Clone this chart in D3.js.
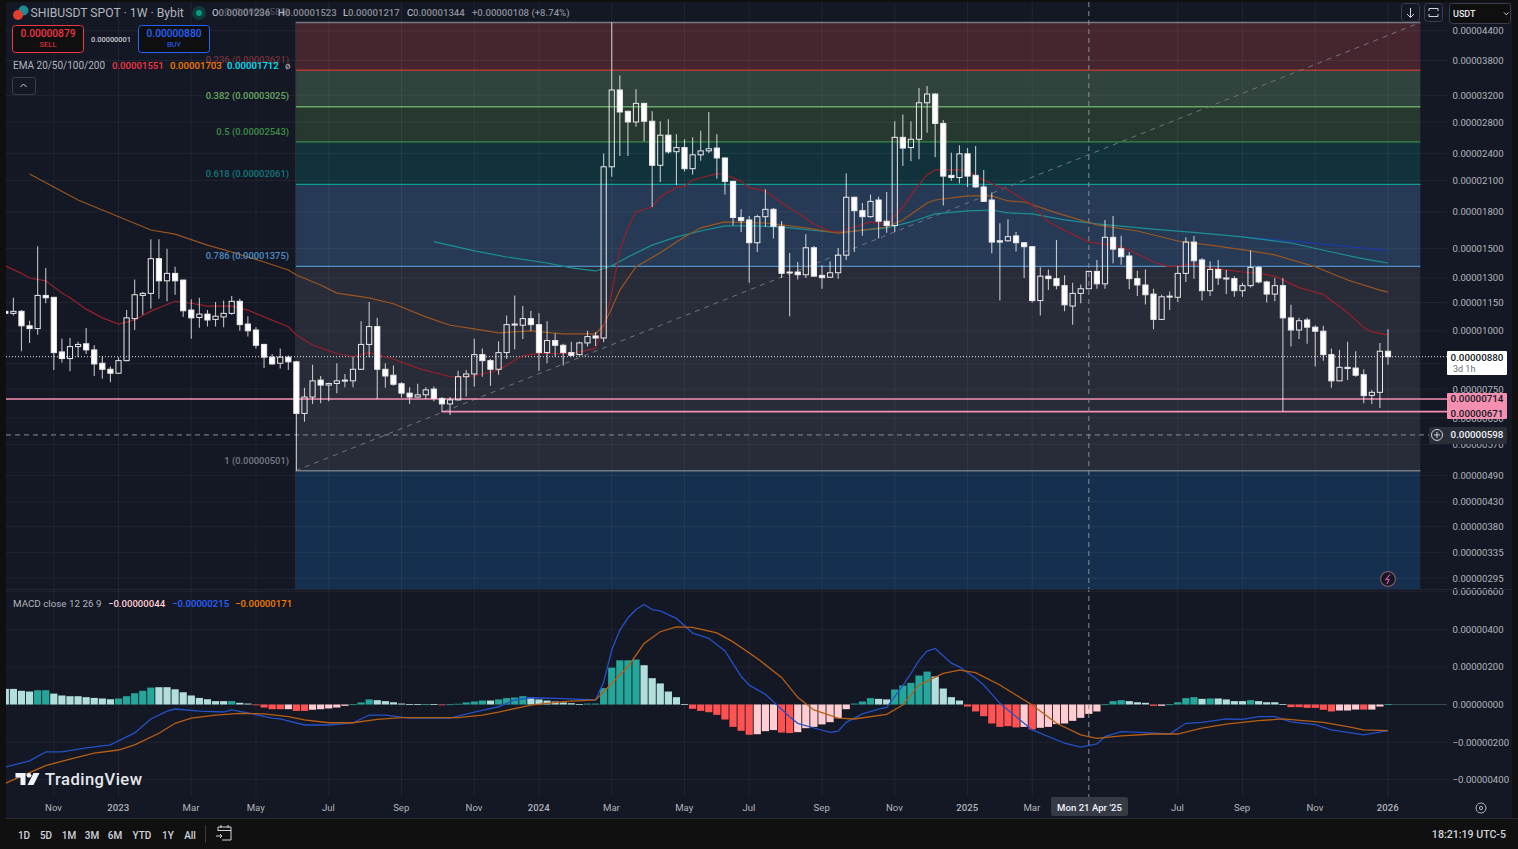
<!doctype html>
<html>
<head>
<meta charset='utf-8' />
<script src="https://cdn.jsdelivr.net/npm/d3@7"></script>
<style>
    html, body { margin: 0; padding: 0; background: #0f0f0f; overflow: hidden; }
    svg { display: block; font-family: Roboto, "Liberation Sans", sans-serif; }
</style>
</head>
<body>
<svg id="chart" width="1518" height="849"></svg>
<script>
var candleOpen = [
  1101,1090,1101,1025,1011,1191,1180,901,872,925,
  938,910,852,827,811,863,1062,1191,1203,1428,
  1280,1328,1285,1108,1068,1086,1058,1071,1090,1157,
  1034,1004,935,878,852,878,858,665,721,784,
  765,771,784,781,827,935,1021,827,803,770,
  735,721,729,750,716,697,711,797,808,889,
  863,827,898,1031,1028,1062,1031,898,953,931,
  898,889,942,975,965,2248,3285,2957,2805,3075,
  2815,2265,2628,2422,2472,2227,2385,2432,2466,2348,
  2092,1750,1729,1545,1757,1822,1675,1337,1337,1319,
  1507,1315,1303,1332,1453,1934,1810,1757,1908,1718,
  1682,2600,2472,2575,3084,3220,2785,2155,2132,2397,
  2155,2035,1908,1560,1560,1598,1545,1515,1161,1310,
  1294,1250,1130,1203,1231,1341,1261,1587,1500,1447,
  1294,1254,1199,1058,1183,1180,1328,1550,1419,1219,
  1354,1298,1294,1219,1250,1368,1273,1199,1250,1066,
  1004,1055,1018,998,889,781,835,832,805,727,
  738,904];
var candleClose = [
  1090,1101,1025,1011,1191,1177,898,872,925,935,
  910,849,827,811,863,1066,1195,1203,1428,1280,
  1328,1280,1104,1066,1086,1055,1075,1090,1157,1031,
  1000,931,878,849,878,858,665,721,781,765,
  771,781,781,827,935,1021,827,800,768,735,
  721,729,747,716,697,711,797,808,889,863,
  827,898,1031,1034,1062,1031,898,953,931,898,
  886,942,972,965,2248,3285,2947,2805,3075,2815,
  2265,2628,2420,2472,2227,2385,2432,2457,2348,2092,
  1750,1723,1545,1757,1822,1675,1328,1332,1319,1507,
  1310,1300,1332,1453,1934,1810,1757,1895,1718,1682,
  2600,2466,2575,3084,3220,2785,2147,2132,2397,2147,
  2035,1895,1550,1550,1592,1545,1515,1161,1310,1294,
  1250,1137,1203,1231,1341,1261,1587,1497,1442,1294,
  1254,1195,1058,1183,1187,1328,1550,1413,1219,1354,
  1298,1294,1219,1250,1368,1273,1199,1250,1066,1004,
  1051,1018,998,889,781,835,830,803,726,738,
  904,880];
var candleHigh = [
  1102,1177,1108,1051,1519,1363,1182,962,965,947,
  1014,931,881,838,878,1108,1289,1211,1572,1572,
  1500,1373,1287,1169,1177,1108,1153,1161,1187,1172,
  1075,1018,938,892,916,885,863,755,846,800,
  774,852,808,881,1048,1153,1066,852,843,776,
  757,770,757,760,721,721,821,824,962,916,
  870,950,1079,1191,1130,1104,1090,1048,987,938,
  947,947,1000,994,2401,4585,3530,2966,3297,3085,
  2957,2815,2843,2640,2575,2600,2687,2947,2640,2356,
  2099,1822,1762,1775,2012,1834,1718,1468,1405,1612,
  1520,1383,1410,1505,2175,1940,1881,1960,1940,1986,
  2815,2910,2815,3317,3350,3231,2833,2408,2500,2466,
  2490,2213,1980,1700,1735,1629,1550,1520,1368,1354,
  1566,1315,1268,1257,1345,1419,1729,1762,1600,1476,
  1345,1354,1231,1195,1215,1378,1587,1598,1433,1410,
  1419,1350,1310,1268,1486,1378,1280,1298,1298,1137,
  1066,1066,1028,1025,916,910,947,904,827,747,
  942,1008];
var candleLow = [
  1088,1079,904,942,981,1146,824,855,819,878,
  892,800,789,776,808,860,1004,1083,1115,1172,
  1157,1195,1070,962,1015,1021,1021,1018,1083,1000,
  972,916,832,846,830,824,501,638,697,699,
  706,735,757,757,824,878,714,755,762,719,
  697,719,714,706,669,660,709,723,760,797,
  762,805,870,913,960,1000,821,852,881,843,
  881,885,925,928,945,2140,2371,2371,2740,2550,
  1843,2085,2397,2055,2197,2165,2317,2407,2120,1960,
  1685,1629,1268,1476,1670,1577,1298,1075,1289,1298,
  1306,1231,1298,1294,1419,1476,1600,1750,1577,1623,
  1629,2258,2310,2333,2660,2356,1858,2099,2070,2035,
  2028,1889,1467,1161,1553,1480,1298,1150,1079,1223,
  1228,1101,1031,1146,1231,1231,1231,1396,1386,1228,
  1187,1139,1008,1055,1108,1153,1273,1294,1161,1187,
  1254,1199,1183,1183,1238,1264,1150,1157,671,925,
  960,938,838,863,755,781,784,797,699,697,
  683,846];

// moving averages as [candle index, price]
var emaRed = [[0,1378],[2,1328],[3,1298],[5,1280],[7,1205],[8,1177],[10,1113],[12,1066],[14,1034],[16,1055],[18,1102],[21,1157],[23,1146],[25,1130],[28,1130],[30,1108],[32,1071],[35,1020],[36,980],[38,932],[41,894],[43,881],[45,898],[48,870],[51,832],[55,797],[58,800],[61,824],[64,885],[66,894],[70,894],[73,917],[74,1020],[75,1205],[76,1491],[77,1665],[78,1800],[80,1843],[81,1940],[83,2030],[84,2040],[85,2106],[88,2173],[89,2162],[91,2095],[92,2028],[94,1995],[96,1880],[98,1790],[100,1695],[102,1637],[103,1629],[105,1670],[107,1712],[109,1687],[111,1843],[112,1957],[114,2162],[115,2213],[118,2213],[119,2202],[121,2106],[123,2035],[124,2005],[127,1862],[129,1712],[132,1610],[134,1550],[137,1527],[139,1491],[142,1405],[144,1372],[147,1392],[149,1364],[153,1337],[155,1328],[157,1310],[160,1238],[163,1197],[166,1095],[168,1016],[169,995],[171,980]];
var emaOrange = [[3,2170],[9,1908],[18,1645],[21,1612],[25,1527],[28,1476],[32,1405],[35,1350],[36,1317],[39,1254],[41,1205],[45,1177],[48,1143],[52,1071],[55,1028],[58,1010],[61,990],[65,1000],[69,985],[73,985],[74,1028],[75,1119],[76,1223],[78,1372],[81,1470],[83,1550],[84,1590],[86,1663],[89,1712],[94,1703],[96,1687],[99,1663],[103,1620],[109,1670],[111,1729],[114,1880],[115,1908],[119,1947],[122,1947],[124,1899],[126,1889],[130,1790],[135,1687],[140,1637],[145,1558],[149,1527],[154,1484],[157,1455],[162,1372],[166,1285],[170,1223],[171,1211]];
var emaTeal = [[53,1553],[58,1484],[62,1440],[67,1398],[70,1364],[73,1344],[75,1378],[77,1440],[80,1527],[83,1590],[86,1637],[89,1679],[93,1679],[97,1663],[102,1629],[104,1629],[109,1663],[112,1712],[115,1781],[119,1808],[122,1816],[124,1790],[127,1781],[131,1729],[135,1695],[142,1653],[148,1620],[153,1590],[159,1543],[164,1476],[168,1426],[171,1398]];
var emaBlue = [[153,1590],[160,1553],[166,1515],[171,1486]];

// MACD pane, same units
var macdHist = [
  83,83,73,69,76,76,58,48,44,44,
  39,35,32,28,32,44,60,73,90,92,
  92,81,65,48,35,28,18,18,18,9,
  5,-4,-16,-25,-25,-25,-34,-34,-28,-25,
  -21,-16,-7,1,11,27,23,18,12,5,
  2,2,2,2,-3,1,4,11,16,21,
  21,27,34,37,44,37,27,21,16,11,
  7,2,5,5,87,196,235,235,239,209,
  140,112,69,39,2,-23,-34,-41,-55,-80,
  -119,-140,-161,-158,-142,-136,-149,-152,-147,-126,
  -119,-106,-94,-73,-25,5,16,34,30,27,
  80,101,115,154,175,149,85,39,21,-11,
  -37,-62,-101,-119,-115,-122,-119,-133,-124,-119,
  -104,-101,-87,-71,-50,-37,1,18,23,18,
  12,9,-7,-7,1,12,34,39,30,32,
  32,27,18,18,23,18,12,12,2,-14,
  -14,-18,-18,-28,-37,-32,-32,-27,-27,-27,
  -11,2];
// t teal, l light teal, r red, p pink
var macdShade = "llllttllllllllttttt" + "lllllllllt" + "ll" + "rrrrprr" + "ppppp" + "ttt" + "llllll" + "tlr" + "ttttt" + "lt" + "ttt" + "lllllll" + "ttttttt" + "llllll" + "rrrrrrrr" + "ppp" + "rr" + "ppppppp" + "ttt" + "ll" + "ttttt" + "llll" + "rrrrrrr" + "pr" + "pppppppp" + "ttt" + "lll" + "rp" + "tttt" + "lt" + "llll" + "t" + "llll" + "rrrrrr" + "ppp" + "rpp" + "t";
var macdLine = [[0,-333],[3,-300],[5,-252],[7,-252],[10,-231],[13,-215],[16,-151],[18,-77],[20,-35],[21,-24],[24,-35],[27,-40],[28,-29],[30,-45],[33,-72],[34,-77],[37,-109],[40,-109],[43,-98],[45,-56],[47,-56],[50,-72],[55,-72],[58,-40],[61,-12],[63,24],[65,36],[69,31],[73,24],[74,120],[75,290],[76,396],[77,460],[78,505],[79,532],[80,505],[81,498],[83,458],[85,380],[87,352],[89,285],[91,150],[92,103],[94,55],[95,15],[97,-65],[98,-100],[100,-125],[102,-148],[103,-142],[104,-95],[106,-50],[108,-25],[109,-15],[111,100],[112,165],[113,235],[114,284],[115,298],[117,220],[118,200],[120,140],[121,104],[122,55],[123,6],[127,-135],[131,-206],[133,-227],[135,-210],[136,-171],[138,-144],[141,-150],[144,-157],[146,-100],[148,-95],[151,-77],[153,-79],[155,-65],[157,-65],[159,-93],[162,-107],[164,-135],[168,-162],[171,-139]];
var macdSignal = [[0,-419],[3,-362],[5,-325],[8,-291],[11,-259],[14,-242],[16,-215],[19,-153],[21,-100],[23,-73],[26,-57],[29,-47],[32,-50],[35,-65],[37,-82],[40,-97],[43,-97],[46,-79],[49,-70],[52,-70],[56,-70],[59,-56],[61,-40],[65,-3],[69,15],[73,24],[74,68],[77,201],[79,325],[81,387],[83,413],[85,410],[88,381],[90,333],[93,245],[96,144],[98,38],[100,-29],[103,-72],[105,-77],[109,-52],[111,-3],[113,104],[116,166],[118,183],[120,169],[123,104],[127,-3],[130,-100],[133,-162],[135,-180],[138,-167],[142,-157],[145,-157],[148,-126],[151,-104],[155,-86],[158,-77],[163,-95],[166,-118],[168,-135],[171,-139]];

// fib retracement
var fibRatios = [0, 0.236, 0.382, 0.5, 0.618, 0.786, 1];
var fibPrices = [4585, 3621, 3025, 2543, 2061, 1375, 501];
var fibLine = ["#787b86", "#b03a36", "#66a860", "#3c8a46", "#0e9c96", "#4f8fc6", "#787b86"];
var fibText = ["#4a4d58", "#73323a", "#6aa864", "#3f8e4a", "#11787c", "#4f8fc6", "#787b86"];
var fibFill = ["#45262f", "#30433d", "#27392f", "#12323b", "#273a55", "#282b38", "#15304f"];

var priceTicks = [4400,3800,3200,2800,2400,2100,1800,1500,1300,1150,1000,850,750,650,570,490,430,380,335,295];
var priceLabelled = [4400,3800,3200,2800,2400,2100,1800,1500,1300,1150,1000,750,650,570,490,430,380,335,295];
var macdTicks = [600,400,200,0,-200,-400];
var timeIdx = [6,14,23,31,40,49,58,66,75,84,92,101,110,119,127,145,153,162,171];
var timeLabels = ["Nov","2023","Mar","May","Jul","Sep","Nov","2024","Mar","May","Jul","Sep","Nov","2025","Mar","Jul","Sep","Nov","2026"];
var rangeButtons = ["1D","5D","1M","3M","6M","YTD","1Y","All"];

var lastPrice = 880, sellPrice = 879, supportA = 714, supportB = 671, crossPrice = 598, crossIdx = 134, fibFromIdx = 35.9, fibToIdx = 175;

var svg = d3.select("#chart");
var x = d3.scaleLinear().domain([0, 171]).range([5.3, 1388]);
var y = d3.scaleLog().domain([3800, 295]).range([60.5, 578]);
var my = d3.scaleLinear().domain([400, -400]).range([629.3, 779.7]);
var fmt = function (v) { return (v < 0 ? "\u2212" : "") + (Math.abs(v) / 1e8).toFixed(8); };
var bg = "#141824", grey = "#b2b5be";

var defs = svg.append("defs");
defs.append("clipPath").attr("id", "pricePane").append("rect").attr("x", 6).attr("y", 2).attr("width", 1441).attr("height", 587);
defs.append("clipPath").attr("id", "macdPane").append("rect").attr("x", 6).attr("y", 590).attr("width", 1441).attr("height", 207);

function label(g, tx, ty, s, size, fill, anchor, weight) {
    return g.append("text").attr("x", tx).attr("y", ty).attr("dy", "0.35em")
        .attr("font-size", size).attr("fill", fill)
        .attr("text-anchor", anchor || "start")
        .attr("font-weight", weight || 400).text(s);
}
function box(g, bx, by, w, h, fill, stroke, r) {
    return g.append("rect").attr("x", bx).attr("y", by).attr("width", w).attr("height", h)
        .attr("fill", fill).attr("stroke", stroke || "none").attr("rx", r || 0);
}

// backgrounds
box(svg, 0, 0, 1518, 849, "#0f0f0f");
box(svg, 6, 2, 1506, 816, bg);

var price = svg.append("g").attr("clip-path", "url(#pricePane)");

// fib bands
var fx0 = x(fibFromIdx), fx1 = x(fibToIdx);
var bandEdges = fibPrices.concat([100]);
price.selectAll("rect.band").data(fibFill).join("rect").attr("class", "band")
    .attr("x", fx0).attr("width", fx1 - fx0)
    .attr("y", function (d, i) { return y(bandEdges[i]); })
    .attr("height", function (d, i) { return y(bandEdges[i + 1]) - y(bandEdges[i]); })
    .attr("fill", function (d) { return d; });

// grid
var gridCol = "rgba(255,255,255,0.055)";
price.selectAll("line.hg").data(priceTicks).join("line").attr("class", "hg")
    .attr("x1", 6).attr("x2", 1447).attr("y1", function (d) { return y(d); }).attr("y2", function (d) { return y(d); })
    .attr("stroke", gridCol);
svg.append("g").selectAll("line").data(timeIdx).join("line")
    .attr("x1", function (d) { return x(d); }).attr("x2", function (d) { return x(d); })
    .attr("y1", 2).attr("y2", 797).attr("stroke", gridCol);

// fib lines and their labels
price.selectAll("line.fib").data(fibPrices).join("line").attr("class", "fib")
    .attr("x1", fx0).attr("x2", fx1).attr("y1", function (d) { return y(d); }).attr("y2", function (d) { return y(d); })
    .attr("stroke", function (d, i) { return fibLine[i]; }).attr("stroke-width", 1.4);
price.append("line").attr("x1", fx0).attr("x2", fx0).attr("y1", y(fibPrices[0])).attr("y2", 589).attr("stroke", "#2a2e39");
fibPrices.forEach(function (p, i) {
    label(svg, 289, y(p) - 10.5, fibRatios[i] + " (" + fmt(p) + ")", 9.4, fibText[i], "end", 500);
});

// trend line of the fib
price.append("line")
    .attr("x1", x(fibFromIdx)).attr("y1", y(fibPrices[6]))
    .attr("x2", x(fibToIdx)).attr("y2", y(fibPrices[0]))
    .attr("stroke", "#71747e").attr("stroke-dasharray", "5 5").attr("stroke-width", 1);

// support lines, last price, crosshair
price.append("line").attr("x1", 6).attr("x2", 1447).attr("y1", y(supportA)).attr("y2", y(supportA)).attr("stroke", "#f48fb1").attr("stroke-width", 1.6);
price.append("line").attr("x1", x(54)).attr("x2", 1447).attr("y1", y(supportB)).attr("y2", y(supportB)).attr("stroke", "#f48fb1").attr("stroke-width", 1.6);
price.append("line").attr("x1", 6).attr("x2", 1447).attr("y1", y(lastPrice)).attr("y2", y(lastPrice))
    .attr("stroke", "#e8e8e8").attr("stroke-dasharray", "1 2");
price.append("line").attr("x1", 6).attr("x2", 1430).attr("y1", y(crossPrice)).attr("y2", y(crossPrice))
    .attr("stroke", "#8a8d97").attr("stroke-dasharray", "5 4");

// emas
var emaPath = d3.line().x(function (d) { return x(d[0]); }).y(function (d) { return y(d[1]); });
[[emaBlue, "#1c3aa6"], [emaTeal, "#1a9095"], [emaOrange, "#9a5620"], [emaRed, "#94202a"]].forEach(function (e) {
    price.append("path").attr("d", emaPath(e[0])).attr("fill", "none").attr("stroke", e[1]).attr("stroke-width", 1.2);
});

// candles, wicks stop at the body so hollow bodies show what is behind them
var candles = d3.range(candleOpen.length);
var bodyTop = function (i) { return y(Math.max(candleOpen[i], candleClose[i])); };
var bodyBot = function (i) { return y(Math.min(candleOpen[i], candleClose[i])); };
price.selectAll("path.wick").data(candles).join("path").attr("class", "wick")
    .attr("d", function (i) {
        return "M" + x(i) + "," + y(candleHigh[i]) + "V" + bodyTop(i) + "M" + x(i) + "," + bodyBot(i) + "V" + y(candleLow[i]);
    })
    .attr("stroke", "#fff").attr("stroke-opacity", 0.72).attr("stroke-width", 1.1);
price.selectAll("rect.body").data(candles).join("rect").attr("class", "body")
    .attr("x", function (i) { return x(i) - 2.6; }).attr("width", 5.2)
    .attr("y", bodyTop)
    .attr("height", function (i) { return Math.max(1, bodyBot(i) - bodyTop(i)); })
    .attr("fill", function (i) { return candleClose[i] >= candleOpen[i] ? "none" : "#fff"; })
    .attr("stroke", "#e9e9ec").attr("stroke-width", 1);

// MACD pane
var macd = svg.append("g").attr("clip-path", "url(#macdPane)");
macd.selectAll("line.hg").data(macdTicks).join("line").attr("class", "hg")
    .attr("x1", 6).attr("x2", 1447).attr("y1", function (d) { return my(d); }).attr("y2", function (d) { return my(d); })
    .attr("stroke", gridCol);
macd.append("line").attr("x1", x(171)).attr("x2", 1447).attr("y1", my(0)).attr("y2", my(0)).attr("stroke", "#3a4a55");
var shadeCol = { t: "#26a69a", l: "#b2dfdb", r: "#ff5252", p: "#ffcdd2" };
macd.selectAll("rect.bar").data(macdHist).join("rect").attr("class", "bar")
    .attr("x", function (d, i) { return x(i) - 3.6; }).attr("width", 7.2)
    .attr("y", function (d) { return my(Math.max(d, 0)); })
    .attr("height", function (d) { return Math.max(0.8, Math.abs(my(d) - my(0))); })
    .attr("fill", function (d, i) { return shadeCol[macdShade[i]]; });
var macdPath = d3.line().x(function (d) { return x(d[0]); }).y(function (d) { return my(d[1]); });
macd.append("path").attr("d", macdPath(macdLine)).attr("fill", "none").attr("stroke", "#2451c8").attr("stroke-width", 1.3);
macd.append("path").attr("d", macdPath(macdSignal)).attr("fill", "none").attr("stroke", "#b85f14").attr("stroke-width", 1.3);

// crosshair vertical
svg.append("line").attr("x1", x(crossIdx)).attr("x2", x(crossIdx)).attr("y1", 2).attr("y2", 797)
    .attr("stroke", "#8a8d97").attr("stroke-dasharray", "5 4");

// axes
function styleAxis(g) {
    g.select(".domain").remove();
    g.selectAll(".tick line").remove();
    g.selectAll("text").attr("fill", grey).attr("font-size", 9.6).attr("font-family", "Roboto, sans-serif");
}
svg.append("g").attr("transform", "translate(1447,0)")
    .call(d3.axisRight(y).tickValues(priceLabelled).tickFormat(fmt).tickSize(0).tickPadding(5.5)).call(styleAxis);
svg.append("g").attr("transform", "translate(1447,0)")
    .call(d3.axisRight(my).tickValues(macdTicks).tickFormat(fmt).tickSize(0).tickPadding(5.5)).call(styleAxis);
var timeAxis = svg.append("g").attr("transform", "translate(-0.8,797)")
    .call(d3.axisBottom(x).tickValues(timeIdx).tickFormat(function (d, i) { return timeLabels[i]; }).tickSize(0).tickPadding(7)).call(styleAxis);
timeAxis.selectAll("text").attr("font-weight", function (d, i) { return /^\d/.test(timeLabels[i]) ? 500 : 400; });
svg.append("line").attr("x1", 6).attr("x2", 1512).attr("y1", 589.5).attr("y2", 589.5).attr("stroke", "#232632");

// price labels on the scale
box(svg, 1447, 351, 60, 24, "#fff", null, 1);
label(svg, 1477, 357.5, fmt(lastPrice), 9.8, "#131722", "middle", 500);
label(svg, 1453, 368.5, "3d 1h", 9, "#6a6d78");
box(svg, 1447, 393, 60, 26, "#f48fb1", null, 1);
label(svg, 1477, y(supportA), fmt(supportA), 9.8, "#131722", "middle", 500);
label(svg, 1477, y(supportB) + 1.5, fmt(supportB), 9.8, "#131722", "middle", 500);
box(svg, 1429, 427, 78, 17, "#2a2e39", null, 2);
label(svg, 1477, y(crossPrice), fmt(crossPrice), 9.8, "#f0f3fa", "middle", 500);
svg.append("circle").attr("cx", 1437).attr("cy", y(crossPrice)).attr("r", 5.5).attr("fill", "none").attr("stroke", "#d1d4dc");
svg.append("path").attr("d", "M1434 " + y(crossPrice) + "h6M1437 " + (y(crossPrice) - 3) + "v6").attr("stroke", "#d1d4dc");

// crosshair date label
box(svg, 1051, 797, 77, 19, "#363a45", null, 2);
label(svg, 1089.5, 808, "Mon 21 Apr '25", 9.6, "#f0f3fa", "middle", 500);

// header
svg.append("circle").attr("cx", 23.5).attr("cy", 10.5).attr("r", 5).attr("fill", "#1f8a93");
svg.append("circle").attr("cx", 18).attr("cy", 15).attr("r", 5).attr("fill", "#e2402f");
label(svg, 30.5, 13, "SHIBUSDT SPOT \u00b7 1W \u00b7 Bybit", 12.2, grey);
svg.append("circle").attr("cx", 199).attr("cy", 13).attr("r", 7).attr("fill", "#0f3a3c");
svg.append("circle").attr("cx", 199).attr("cy", 13).attr("r", 3).attr("fill", "#089981");
var ohlcX = [212, 218.5, 278, 285, 343, 348, 407, 413, 472];
var ohlcS = ["O", "0.00001236", "H", "0.00001523", "L", "0.00001217", "C", "0.00001344", "+0.00000108 (+8.74%)"];
ohlcS.forEach(function (s, i) { label(svg, ohlcX[i], 13, s, 9.6, i % 2 || i == 8 ? "#8b8e98" : grey, null, 500); });

// sell and buy
box(svg, 12.5, 25.5, 71, 27, "#0f0f0f", "#f23645", 3);
label(svg, 48, 33, fmt(sellPrice), 10.2, "#f23645", "middle", 500);
label(svg, 48, 44, "SELL", 7.6, "#f23645", "middle");
label(svg, 111, 39.5, "0.00000001", 7.4, "#c8cbd2", "middle", 500);
box(svg, 138.5, 25.5, 71, 27, "#0f0f0f", "#2962ff", 3);
label(svg, 174, 33, fmt(lastPrice), 10.2, "#2962ff", "middle", 500);
label(svg, 174, 44, "BUY", 7.6, "#2962ff", "middle");

// ema legend
label(svg, 13, 65.5, "EMA 20/50/100/200", 10, grey);
label(svg, 112, 65.5, fmt(1551), 9.6, "#f23645", null, 500);
label(svg, 170, 65.5, fmt(1703), 9.6, "#f57c00", null, 500);
label(svg, 227, 65.5, fmt(1712), 9.6, "#00e5ff", null, 500);
label(svg, 285, 65.5, "\u00f8", 9.6, grey);
box(svg, 12.5, 77.5, 23, 17, bg, "#3a3e4a", 2);
svg.append("path").attr("d", "M20.5 87l3-3 3 3").attr("fill", "none").attr("stroke", "#d1d4dc");

// macd legend
label(svg, 13, 603.5, "MACD close 12 26 9", 9.8, grey);
label(svg, 108, 603.5, fmt(-44), 9.6, "#ffcdd2", null, 500);
label(svg, 172, 603.5, fmt(-215), 9.6, "#2962ff", null, 500);
label(svg, 235, 603.5, fmt(-171), 9.6, "#f57c00", null, 500);

// watermark
svg.append("path").attr("fill", "#f0f3fa")
    .attr("d", "M15.5 773h10v12h-5v-7.5h-5zM39.5 773l-6 12h-6l6-12z");
svg.append("circle").attr("cx", 29).attr("cy", 775.3).attr("r", 2.4).attr("fill", "#f0f3fa");
label(svg, 45, 779.5, "TradingView", 16.6, "#e6e8ee", null, 500).attr("textLength", 97);

// top right buttons
box(svg, 1401.5, 3.5, 18, 18, bg, "#3a3e4a", 3);
svg.append("path").attr("d", "M1410.5 8v9M1407 14l3.5 3.5 3.5-3.5").attr("fill", "none").attr("stroke", "#d1d4dc");
box(svg, 1424.5, 3.5, 18, 18, bg, "#3a3e4a", 3);
svg.append("path").attr("d", "M1429 11v-2.5h9V11M1429 14v2.5h9V14").attr("fill", "none").attr("stroke", "#d1d4dc");
box(svg, 1449.5, 3.5, 61, 20, "#0f0f0f", "#3a3e4a", 3);
label(svg, 1453, 13.5, "USDT", 9, "#e6e8ee", null, 500);
svg.append("path").attr("d", "M1504 12.5l2.3 2.3 2.3-2.3").attr("fill", "none").attr("stroke", "#d1d4dc");

// lightning badge and settings
svg.append("circle").attr("cx", 1388).attr("cy", 579).attr("r", 7.4).attr("fill", "#141824").attr("stroke", "#7d5566").attr("stroke-width", 1.2);
svg.append("path").attr("d", "M1390 574.5l-4 5h3l-2 4.5").attr("fill", "none").attr("stroke", "#d05a9c").attr("stroke-width", 1.2);
svg.append("circle").attr("cx", 1481).attr("cy", 808).attr("r", 5).attr("fill", "none").attr("stroke", grey);
svg.append("circle").attr("cx", 1481).attr("cy", 808).attr("r", 1.6).attr("fill", "none").attr("stroke", grey);

// bottom toolbar
svg.append("line").attr("x1", 6).attr("x2", 1518).attr("y1", 818.5).attr("y2", 818.5).attr("stroke", "#2a2a2a");
box(svg, 6, 819, 1512, 30, "#101010");
var rangeX = [24, 46, 69, 92, 115, 142, 168, 190];
rangeButtons.forEach(function (s, i) { label(svg, rangeX[i], 835, s, 10, "#d1d4dc", "middle", 500); });
svg.append("line").attr("x1", 205.5).attr("x2", 205.5).attr("y1", 825).attr("y2", 843).attr("stroke", "#3a3a3a");
svg.append("path").attr("d", "M218 831v-4h13v13h-9M218 830.5h13M221 825v3M228 825v3M216 836h6M220 834l2 2-2 2").attr("fill", "none").attr("stroke", "#d1d4dc");
label(svg, 1506, 834.5, "18:21:19 UTC-5", 10.6, "#d1d4dc", "end", 500);
</script>
</body>
</html>
